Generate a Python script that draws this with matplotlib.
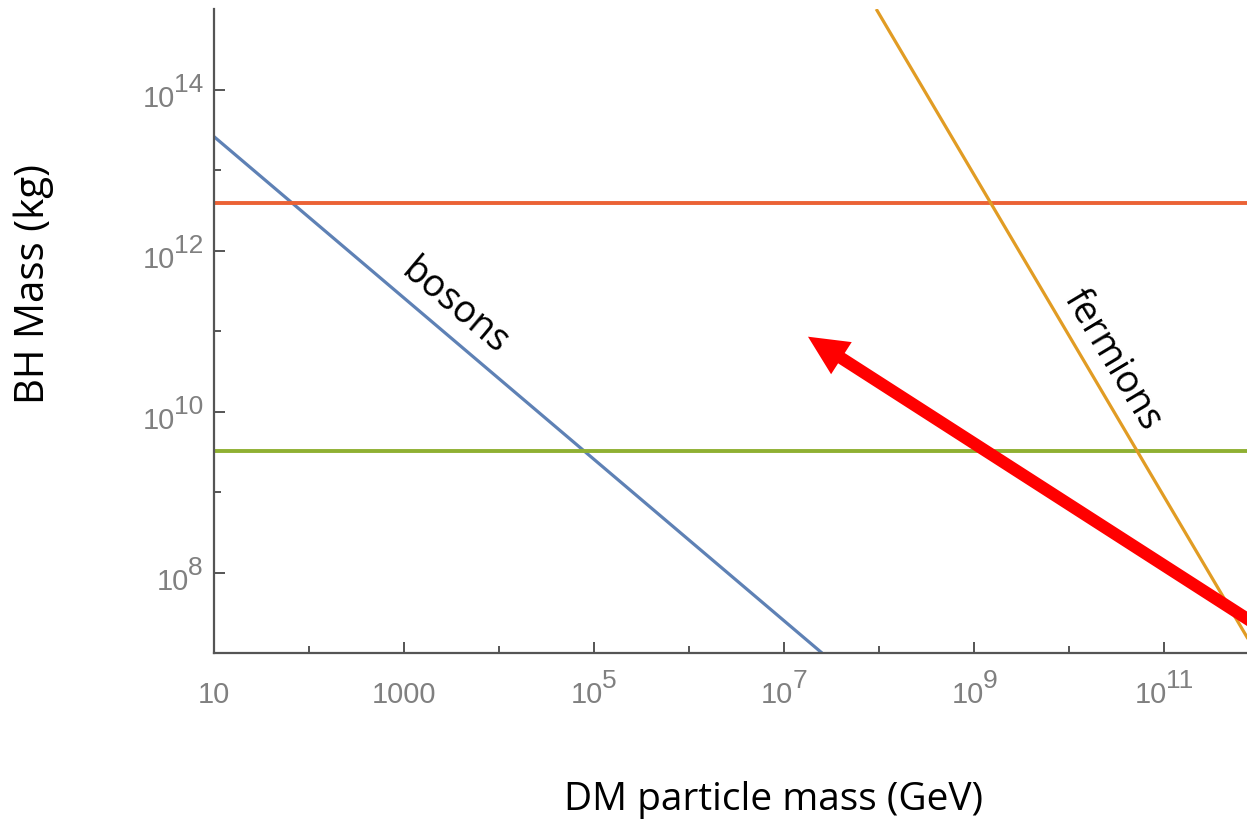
import matplotlib
matplotlib.use('Agg')
import matplotlib.pyplot as plt
from matplotlib.ticker import FixedLocator, NullFormatter
from matplotlib.transforms import offset_copy

# Data
bosons_x = [1e1, 2.5e7]
bosons_y = [2.6e13, 1e7]
fermions_x = [9.3e7, 9.3e11]
fermions_y = [1e15, 1e7]
red_level = 3.9e12
green_level = 3.2e9
arrow_tip = (1.78e7, 8.5e10)
arrow_tail = (2.7e12, 1.0e7)

x_major = [1e1, 1e3, 1e5, 1e7, 1e9, 1e11]
x_major_labels = [('10', ''), ('1000', ''), ('10', '5'), ('10', '7'), ('10', '9'), ('10', '11')]
x_minor = [1e2, 1e4, 1e6, 1e8, 1e10]
y_major = [1e8, 1e10, 1e12, 1e14]
y_major_labels = [('10', '8'), ('10', '10'), ('10', '12'), ('10', '14')]
y_minor = [1e9, 1e11, 1e13]

TICK_FONT = 'Liberation Sans'
TICK_COLOR = '#808080'
BASE_SIZE = 21
EXP_SIZE = 19
LABEL_FONT = 'Open Sans'

plt.rcParams['font.family'] = ['Liberation Sans', 'DejaVu Sans']

fig = plt.figure(figsize=(12.47, 8.22), dpi=100)
ax = fig.add_axes([0.1716, 0.2056, 0.8284, 0.7834])

ax.plot(bosons_x, bosons_y, color='#5E81B5', lw=2.3, solid_capstyle='butt')
ax.axhline(red_level, color='#EB6235', lw=2.8)
ax.axhline(green_level, color='#8FB032', lw=2.8)
ax.plot(fermions_x, fermions_y, color='#E19C24', lw=2.3, solid_capstyle='butt')

ax.set_xscale('log')
ax.set_yscale('log')
ax.set_xlim(1e1, 10 ** 11.87)
ax.set_ylim(1e7, 1e15)

ax.xaxis.set_major_locator(FixedLocator(x_major))
ax.xaxis.set_minor_locator(FixedLocator(x_minor))
ax.xaxis.set_minor_formatter(NullFormatter())
ax.yaxis.set_major_locator(FixedLocator(y_major))
ax.yaxis.set_minor_locator(FixedLocator(y_minor))
ax.yaxis.set_minor_formatter(NullFormatter())

for side in ['top', 'right']:
    ax.spines[side].set_visible(False)
for side in ['left', 'bottom']:
    ax.spines[side].set_color('#555555')
    ax.spines[side].set_linewidth(1.6)

ax.tick_params(which='major', direction='in', length=8, width=1.4, color='#555555',
               labelbottom=False, labelleft=False)
ax.tick_params(which='minor', direction='in', length=5, width=1.4, color='#555555')

# Tick labels with full size exponents (drawn by hand, pixel offsets)
renderer = fig.canvas.get_renderer()

def text_width(s, size):
    if not s:
        return 0
    t = fig.text(0, 0, s, fontsize=size, family=TICK_FONT)
    w = t.get_window_extent(renderer).width
    t.remove()
    return w

gap = -1
xtrans = ax.get_xaxis_transform()
for val, (base, exp) in zip(x_major, x_major_labels):
    wb = text_width(base, BASE_SIZE)
    we = text_width(exp, EXP_SIZE)
    total = wb + (gap + we if exp else 0)
    left = -total / 2
    ax.text(val, 0, base, fontsize=BASE_SIZE, family=TICK_FONT, color=TICK_COLOR,
            ha='left', va='baseline',
            transform=offset_copy(xtrans, fig=fig, x=left, y=-50, units='dots'))
    if exp:
        ax.text(val, 0, exp, fontsize=EXP_SIZE, family=TICK_FONT, color=TICK_COLOR,
                ha='left', va='baseline',
                transform=offset_copy(xtrans, fig=fig, x=left + wb + gap, y=-35, units='dots'))

ytrans = ax.get_yaxis_transform()
for val, (base, exp) in zip(y_major, y_major_labels):
    we = text_width(exp, EXP_SIZE)
    ax.text(0, val, exp, fontsize=EXP_SIZE, family=TICK_FONT, color=TICK_COLOR,
            ha='right', va='baseline',
            transform=offset_copy(ytrans, fig=fig, x=-11, y=-2, units='dots'))
    ax.text(0, val, base, fontsize=BASE_SIZE, family=TICK_FONT, color=TICK_COLOR,
            ha='right', va='baseline',
            transform=offset_copy(ytrans, fig=fig, x=-11 - we - gap, y=-17, units='dots'))

ax.annotate('', xy=arrow_tip, xytext=arrow_tail, annotation_clip=False,
            arrowprops=dict(arrowstyle='simple,head_width=1.25,head_length=1.3,tail_width=0.4',
                            color='#FF0000', lw=0, mutation_scale=22, shrinkA=0, shrinkB=0))

ax.text(3.4e3, 2.0e11, 'bosons', rotation=-40, fontsize=27, family=LABEL_FONT,
        ha='center', va='center', rotation_mode='anchor')
ax.text(2.85e10, 4.3e10, 'fermions', rotation=-59, fontsize=27, family=LABEL_FONT,
        ha='center', va='center', rotation_mode='anchor')

fig.text(0.620, 0.0146, 'DM particle mass (GeV)', fontsize=28, family=LABEL_FONT,
         ha='center', va='baseline')
fig.text(0.027, 0.655, 'BH Mass (kg)', fontsize=29, family=LABEL_FONT, rotation=90,
         ha='center', va='center')

fig.savefig('out.png', dpi=100)
